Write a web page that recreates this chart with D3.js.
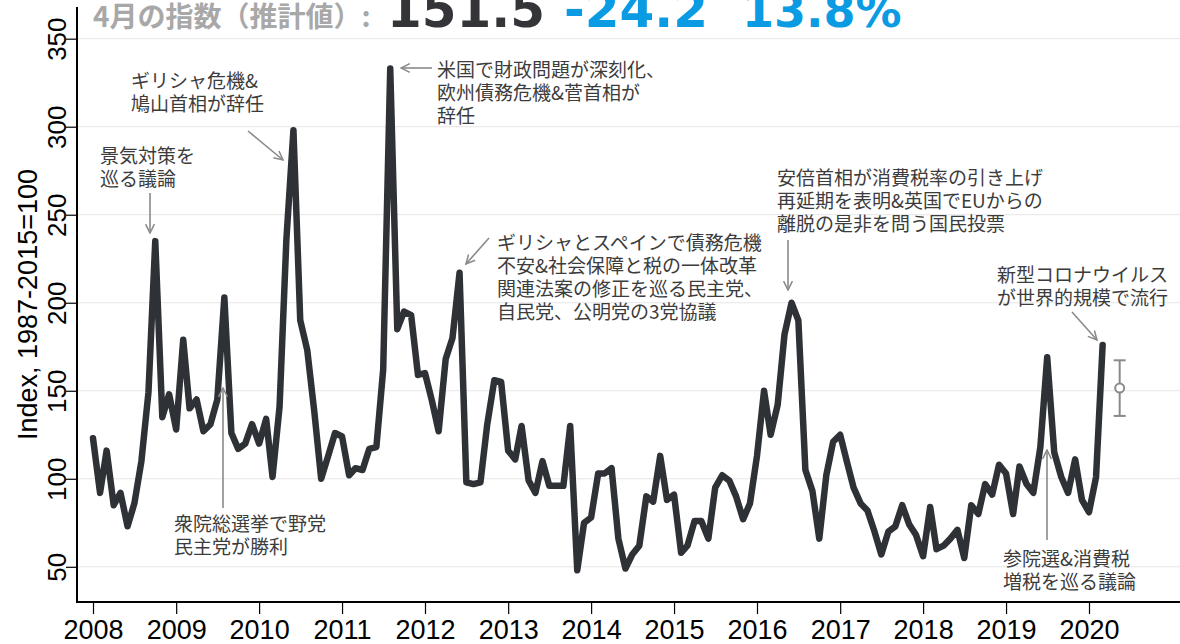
<!DOCTYPE html>
<html><head><meta charset="utf-8">
<script src="https://cdn.jsdelivr.net/npm/d3@7"></script>
<style>html,body{margin:0;padding:0;background:#fff;overflow:hidden}</style>
</head><body><svg id="c" width="1180" height="644"></svg>
<script>
// ---- data ----
const startYear = 2008;
const v2008 = [123, 92, 116, 85, 92, 73, 86, 110, 149, 235, 135, 148];
const v2009 = [128, 179, 140, 145, 127, 131, 145, 203, 126, 117, 120, 131];
const v2010 = [120, 134, 101, 141, 236, 298, 190, 173, 138, 100, 113, 126];
const v2011 = [124, 102, 106, 105, 117, 118, 162, 333, 185, 195, 193, 159];
const v2012 = [160, 144, 127, 168, 180, 217, 98, 97, 98, 131, 156, 155];
const v2013 = [116, 111, 130, 99, 92, 110, 96, 96, 96, 130, 48, 75];
const v2014 = [78, 103, 103, 106, 66, 49, 57, 62, 90, 87, 113, 88];
const v2015 = [91, 58, 62, 76, 76, 66, 95, 102, 99, 90, 77, 86];
const v2016 = [113, 150, 125, 142, 182, 200, 190, 105, 93, 66, 102, 121];
const v2017 = [125, 109, 95, 86, 82, 70, 57, 70, 73, 85, 74, 68];
const v2018 = [56, 84, 60, 62, 66, 71, 55, 85, 80, 97, 91, 108];
const v2019 = [103, 80, 107, 97, 92, 118, 169, 115, 101, 92, 111, 88];
const v2020 = [81, 101, 176];
const yearlyValues = [v2008, v2009, v2010, v2011, v2012, v2013, v2014, v2015, v2016, v2017, v2018, v2019, v2020];

const estimateDate = new Date(2020, 4, 15);
const estimateValue = 151.5;
const estimateLow = 135.7;
const estimateHigh = 167.3;

const titleLabel = "4月の指数（推計値）:";
const titleValue = "151.5";
const titleChange = "-24.2";
const titlePct = "13.8%";

const yTicks = [50, 100, 150, 200, 250, 300, 350];
const xTickYears = [2008, 2009, 2010, 2011, 2012, 2013, 2014, 2015, 2016, 2017, 2018, 2019, 2020];
const yTitle = "Index, 1987-2015=100";

const annotations = [
  {lines: ["景気対策を", "巡る議論"]},
  {lines: ["ギリシャ危機&", "鳩山首相が辞任"]},
  {lines: ["米国で財政問題が深刻化、", "欧州債務危機&菅首相が", "辞任"]},
  {lines: ["ギリシャとスペインで債務危機", "不安&社会保障と税の一体改革", "関連法案の修正を巡る民主党、", "自民党、公明党の3党協議"]},
  {lines: ["安倍首相が消費税率の引き上げ", "再延期を表明&英国でEUからの", "離脱の是非を問う国民投票"]},
  {lines: ["新型コロナウイルス", "が世界的規模で流行"]},
  {lines: ["衆院総選挙で野党", "民主党が勝利"]},
  {lines: ["参院選&消費税", "増税を巡る議論"]}
];
// layout for annotations (pixels): text left/baseline, arrow from -> to
const annotLayout = [
  {tx: 100, ty: 163, a: [150, 193, 150, 233]},
  {tx: 131, ty: 88, a: [248, 131, 283, 160]},
  {tx: 437, ty: 77, a: [432, 68, 401, 68]},
  {tx: 497, ty: 250, a: [489, 238, 466, 264]},
  {tx: 777, ty: 185, a: [788, 240, 788, 290]},
  {tx: 997, ty: 282, a: [1072, 312, 1097, 340]},
  {tx: 174, ty: 531, a: [223, 508, 223, 388]},
  {tx: 1003, ty: 566, a: [1047, 540, 1047, 450]}
];

// ---- build series ----
const series = [];
yearlyValues.forEach((arr, yi) => arr.forEach((v, mi) => series.push({date: new Date(startYear + yi, mi, 1), value: v})));

const W = 1180, H = 644;
const svg = d3.select("#c");
const x = d3.scaleTime().domain([new Date(2008, 0, 1), new Date(2020, 0, 1)]).range([93, 1089]);
const y = d3.scaleLinear().domain([30, 368]).range([602, 7]);
const axisX0 = 77, axisX1 = W;

// gridlines
svg.append("g").selectAll("line").data(yTicks).join("line")
  .attr("x1", axisX0).attr("x2", axisX1)
  .attr("y1", d => y(d)).attr("y2", d => y(d))
  .attr("stroke", "#e6e6e6").attr("stroke-width", 1);

// y axis
const yAxis = svg.append("g").attr("transform", `translate(${axisX0},0)`)
  .call(d3.axisLeft(y).tickValues(yTicks).tickSize(11).tickSizeOuter(0).tickPadding(0));
yAxis.select(".domain").remove();
yAxis.append("line").attr("x1", 0).attr("x2", 0).attr("y1", y(368)).attr("y2", y(30)).attr("stroke", "#000").attr("stroke-width", 2);
yAxis.selectAll(".tick line").attr("stroke", "#000").attr("stroke-width", 1.2);
yAxis.selectAll(".tick text")
  .attr("font-family", "Liberation Sans, Arial, sans-serif").attr("font-size", 26).attr("fill", "#000")
  .attr("text-anchor", "middle").attr("x", null).attr("dy", null)
  .attr("transform", "translate(-11,0) rotate(-90)").attr("y", 0);

// y title
svg.append("text")
  .attr("transform", `translate(37,${y(199)}) rotate(-90)`)
  .attr("text-anchor", "middle")
  .attr("font-family", "Liberation Sans, Arial, sans-serif").attr("font-size", 27).attr("fill", "#000")
  .text(yTitle);

// x axis
const xAxis = svg.append("g").attr("transform", `translate(0,${y(30)})`)
  .call(d3.axisBottom(x).tickValues(xTickYears.map(yy => new Date(yy, 0, 1))).tickFormat(d3.timeFormat("%Y")).tickSize(12).tickSizeOuter(0).tickPadding(6));
xAxis.select(".domain").remove();
xAxis.append("line").attr("x1", axisX0 - 1).attr("x2", axisX1).attr("y1", 0).attr("y2", 0).attr("stroke", "#000").attr("stroke-width", 2);
xAxis.selectAll(".tick line").attr("stroke", "#000").attr("stroke-width", 1.2);
xAxis.selectAll(".tick text").attr("font-family", "Liberation Sans, Arial, sans-serif").attr("font-size", 27).attr("fill", "#000");

// main line
const line = d3.line().x(d => x(d.date)).y(d => y(d.value));
svg.append("path").datum(series)
  .attr("d", line).attr("fill", "none")
  .attr("stroke", "#2e3236").attr("stroke-width", 6.5)
  .attr("stroke-linejoin", "round").attr("stroke-linecap", "round");

// estimate with error bar
const ex = x(estimateDate);
const eg = svg.append("g").attr("stroke", "#8a8a8a").attr("stroke-width", 2).attr("fill", "none");
eg.append("line").attr("x1", ex).attr("x2", ex).attr("y1", y(estimateHigh)).attr("y2", y(estimateLow));
eg.append("line").attr("x1", ex - 6).attr("x2", ex + 6).attr("y1", y(estimateHigh)).attr("y2", y(estimateHigh));
eg.append("line").attr("x1", ex - 6).attr("x2", ex + 6).attr("y1", y(estimateLow)).attr("y2", y(estimateLow));
eg.append("circle").attr("cx", ex).attr("cy", y(estimateValue)).attr("r", 4.5).attr("fill", "#fff");

// arrow marker
svg.append("defs").append("marker").attr("id", "arr")
  .attr("viewBox", "0 0 10 10").attr("refX", 9).attr("refY", 5)
  .attr("markerWidth", 11).attr("markerHeight", 11).attr("markerUnits", "userSpaceOnUse")
  .attr("orient", "auto")
  .append("path").attr("d", "M1,1 L9,5 L1,9").attr("fill", "none").attr("stroke", "#8a8a8a").attr("stroke-width", 1.4);

// annotations
annotations.forEach((a, i) => {
  const L = annotLayout[i];
  svg.append("line").attr("x1", L.a[0]).attr("y1", L.a[1]).attr("x2", L.a[2]).attr("y2", L.a[3])
    .attr("stroke", "#8a8a8a").attr("stroke-width", 1.6).attr("marker-end", "url(#arr)");
  const t = svg.append("text").attr("font-family", "Noto Sans CJK JP, Noto Sans, sans-serif")
    .attr("font-size", 19).attr("fill", "#3c3c3c");
  a.lines.forEach((ln, j) => t.append("tspan").attr("x", L.tx).attr("y", L.ty + j * 23).text(ln));
});

// title
svg.append("text").attr("x", 93).attr("y", 27)
  .attr("font-family", "Noto Sans CJK JP, sans-serif").attr("font-weight", "bold").attr("font-size", 28)
  .attr("fill", "#a8a8a8").text(titleLabel);
svg.append("text").attr("x", 387).attr("y", 27)
  .attr("font-family", "DejaVu Sans, sans-serif").attr("font-weight", "bold").attr("font-size", 50)
  .attr("fill", "#333538").text(titleValue);
svg.append("text").attr("x", 564).attr("y", 27)
  .attr("font-family", "DejaVu Sans, sans-serif").attr("font-weight", "bold").attr("font-size", 50)
  .attr("fill", "#0a9be2").text(titleChange);
svg.append("text").attr("x", 742).attr("y", 27)
  .attr("font-family", "DejaVu Sans, sans-serif").attr("font-weight", "bold").attr("font-size", 46)
  .attr("fill", "#0a9be2").text(titlePct);
</script></body></html>
